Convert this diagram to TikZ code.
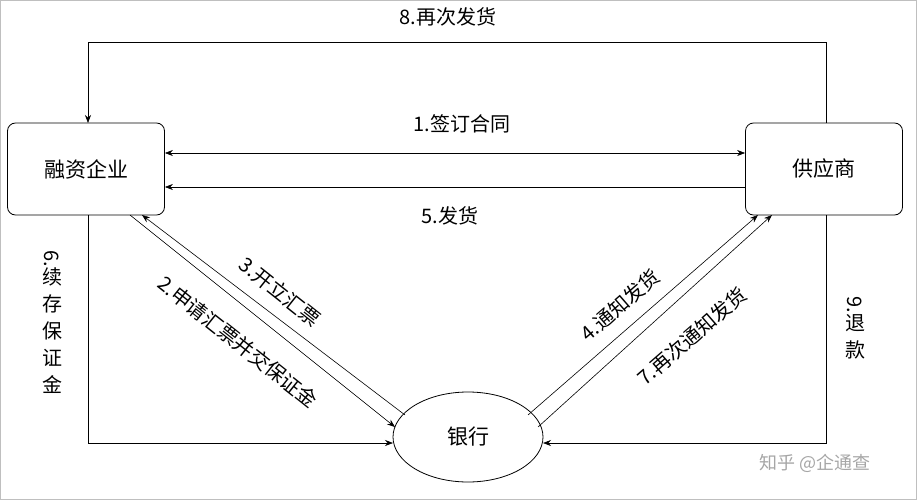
\documentclass[tikz,border=0pt]{standalone}
\usepackage{fontspec}
\setmainfont{Liberation Serif}
\newfontfamily\cjk{Noto Sans CJK SC}
\usetikzlibrary{shapes.geometric,arrows.meta}
\begin{document}
\begin{tikzpicture}[x=1pt,y=-1pt,
  box/.style={draw,thick,rounded corners=8pt,minimum width=157pt,minimum height=92pt,font=\cjk\fontsize{21}{24}\selectfont},
  lbl/.style={font=\cjk\fontsize{20}{24}\selectfont,inner sep=1pt},
  vlbl/.style={font=\cjk\fontsize{20}{27}\selectfont,inner sep=1pt,align=center},
  arr/.style={-{Stealth[length=8pt,width=6pt]},line width=0.6pt}]
\draw[gray!50] (0.5,0.5) rectangle (916.5,499.5);
\useasboundingbox (0,0) rectangle (917,500);
\node[box] (f) at (86,169) {融资企业};
\node[box] (s) at (824,169) {供应商};
\node[draw,thick,ellipse,minimum width=150pt,minimum height=90pt,font=\cjk\fontsize{21}{24}\selectfont] (b) at (468,437) {银行};
% 8
\coordinate (t1) at (826,42); \coordinate (t2) at (88,42);
\draw[arr] (826,123) -- (t1) -- (t2) -- (88,123);
\node[lbl] at (448,17) {8.再次发货};
% 1
\draw[{Stealth[length=8pt,width=6pt]}-{Stealth[length=8pt,width=6pt]},line width=0.6pt] (f.east|-0,153) -- (s.west|-0,153);
\node[lbl] at (462,124) {1.签订合同};
% 5
\draw[arr] (s.west|-0,187) -- (f.east|-0,187);
\node[lbl] at (450,216) {5.发货};
% 6
\coordinate (c6) at (88,443);
\draw[arr] (88,215) -- (c6) -- (393,443);
\node[vlbl] at (52,322) {\rotatebox{-90}{6.}\\续\\存\\保\\证\\金};
% 9
\coordinate (c9) at (826,443);
\draw[arr] (826,215) -- (c9) -- (543,443);
\node[vlbl] at (855,328) {\rotatebox{-90}{9.}\\退\\款};
% 2,3
\draw[arr] (130,215) -- (395,427);
\draw[arr] (405,415) -- (142,215);
\node[lbl,rotate=-38.5] at (280,292) {3.开立汇票};
\node[lbl,rotate=-38.5] at (238,342) {2.申请汇票并交保证金};
% 4,7
\draw[arr] (528,415) -- (758,215);
\draw[arr] (538,427) -- (772,215);
\node[lbl,rotate=41] at (620,305) {4.通知发货};
\node[lbl,rotate=41] at (692,336) {7.再次通知发货};
\node[font=\cjk\fontsize{18}{20}\selectfont,text=gray!70] at (815,463) {知乎 @企通查};
\end{tikzpicture}
\end{document}
